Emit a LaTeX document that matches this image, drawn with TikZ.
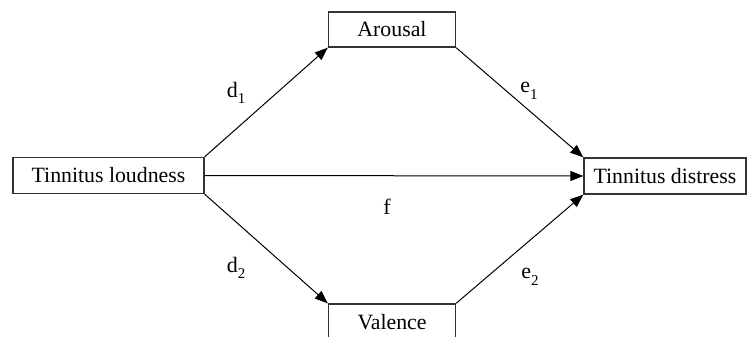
\documentclass[tikz,border=0pt]{standalone}
\usepackage{fontspec}
\setmainfont{Liberation Serif}
\usetikzlibrary{arrows.meta}
\newcommand{\sub}[1]{\raisebox{-0.3em}{\fontsize{15}{17}\selectfont #1}}
\begin{document}
\begin{tikzpicture}[x=1pt,y=-1pt,
  box/.style={draw=black!80,line width=1.4pt,rectangle,inner sep=0pt,
    font=\fontsize{21.8}{25}\selectfont,text=black},
  conn/.style={draw=black,line width=1pt,-{Triangle[length=13pt,width=10pt]}},
  lab/.style={font=\fontsize{22}{25}\selectfont,text=black,inner sep=0pt}]
\useasboundingbox[fill=white] (0,0) rectangle (748,337);
\node[box,minimum width=191pt,minimum height=36pt] (loud) at (108.5,175.5) {Tinnitus loudness};
\node[box,minimum width=162pt,minimum height=36pt] (dist) at (665,176) {Tinnitus distress};
\node[box,minimum width=127pt,minimum height=35pt] (arou) at (392,29.5) {Arousal};
\node[box,minimum width=127pt,minimum height=36pt] (vale) at (392,322) {Valence};
\draw[conn] (loud.north east) -- (arou.south west);
\draw[conn] (arou.south east) -- (dist.north west);
\draw[conn] (loud.east) -- (dist.west);
\draw[conn] (loud.south east) -- (vale.north west);
\draw[conn] (vale.north east) -- (dist.south west);
\node[lab] (d1) at (236,93) {d\sub{1}};
\node[lab] (e1) at (529,91) {e\sub{1}};
\node[lab] (f) at (387,207) {f};
\node[lab] (d2) at (236,268) {d\sub{2}};
\node[lab] (e2) at (530,277) {e\sub{2}};
\end{tikzpicture}
\end{document}
